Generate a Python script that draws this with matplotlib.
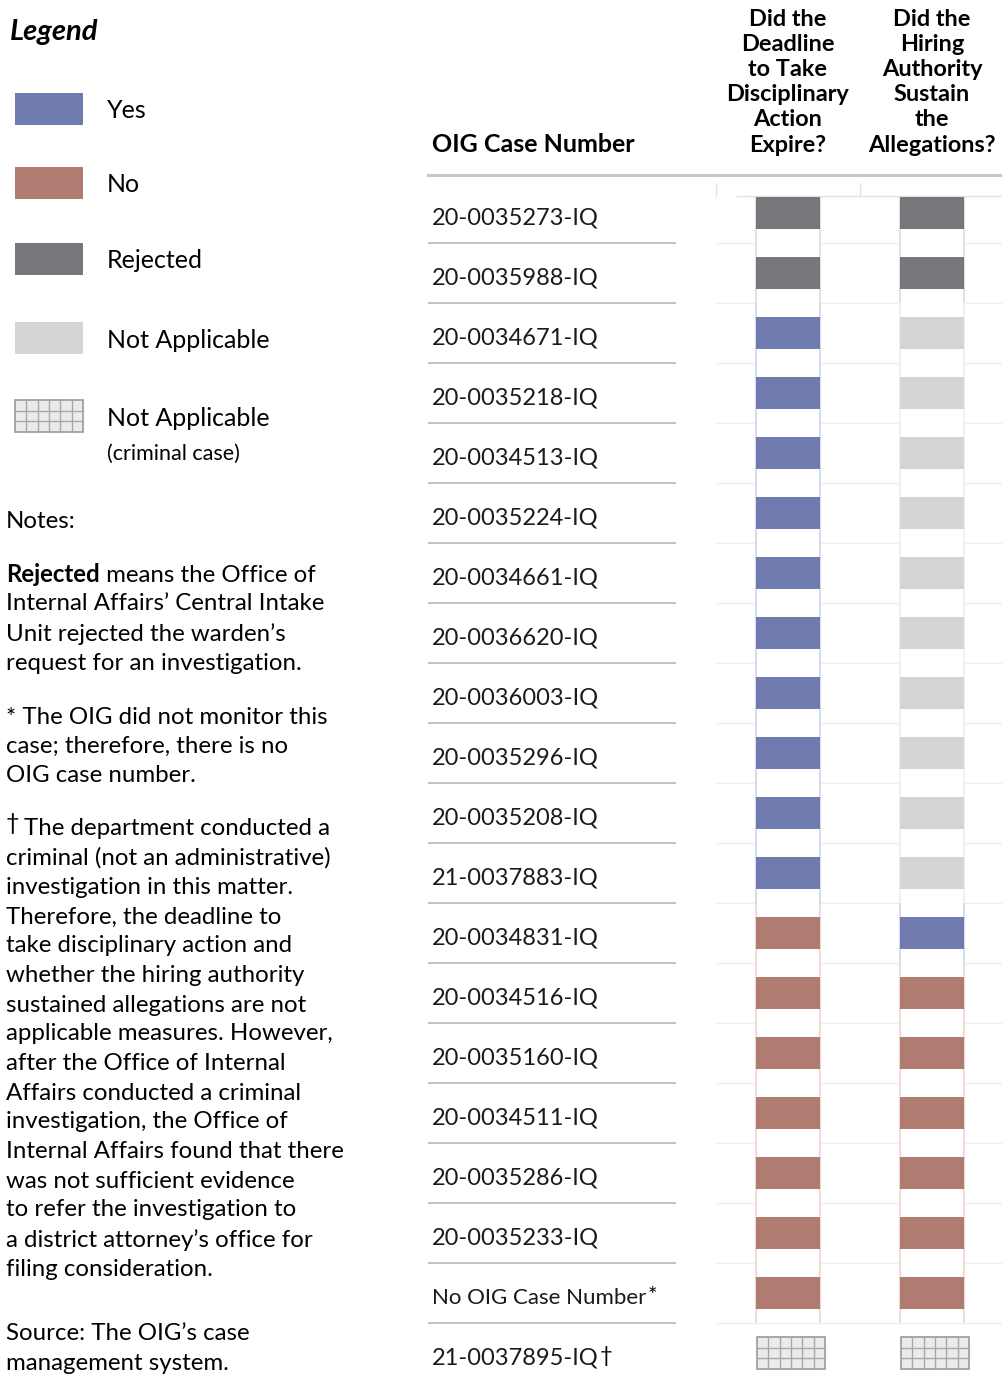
import matplotlib.pyplot as plt
from matplotlib.patches import Rectangle

plt.rcParams["font.family"] = ["Lato", "DejaVu Sans"]

# data
case_numbers = [
    "20-0035273-IQ", "20-0035988-IQ", "20-0034671-IQ", "20-0035218-IQ",
    "20-0034513-IQ", "20-0035224-IQ", "20-0034661-IQ", "20-0036620-IQ",
    "20-0036003-IQ", "20-0035296-IQ", "20-0035208-IQ", "21-0037883-IQ",
    "20-0034831-IQ", "20-0034516-IQ", "20-0035160-IQ", "20-0034511-IQ",
    "20-0035286-IQ", "20-0035233-IQ", "No OIG Case Number", "21-0037895-IQ",
]
case_marks = ["", "", "", "", "", "", "", "", "", "", "", "", "", "", "", "", "", "", "*", "\u2020"]

deadline_expired = [
    "Rejected", "Rejected", "Yes", "Yes", "Yes", "Yes", "Yes", "Yes", "Yes", "Yes",
    "Yes", "Yes", "No", "No", "No", "No", "No", "No", "No", "Criminal",
]
allegations_sustained = [
    "Rejected", "Rejected", "NA", "NA", "NA", "NA", "NA", "NA", "NA", "NA",
    "NA", "NA", "Yes", "No", "No", "No", "No", "No", "No", "Criminal",
]
column_headers = [
    ["Did the", "Deadline", "to Take", "Disciplinary", "Action", "Expire?"],
    ["Did the", "Hiring", "Authority", "Sustain", "the", "Allegations?"],
]

legend_keys = ["Yes", "No", "Rejected", "NA", "Criminal"]
legend_labels = ["Yes", "No", "Rejected", "Not Applicable", "Not Applicable"]

colors = {"Yes": "#6f7aaf", "No": "#b07c72", "Rejected": "#76777b", "NA": "#d4d5d7"}
edge_colors = {"Yes": "#d2d5ec", "No": "#ecd3d0", "Rejected": "#dcdcdc", "NA": "#eeeeee"}

notes = [
    (520, "Notes:"),
    (602, "Internal Affairs\u2019 Central Intake"),
    (632, "Unit rejected the warden\u2019s"),
    (661, "request for an investigation."),
    (715, "* The OIG did not monitor this"),
    (744, "case; therefore, there is no"),
    (773, "OIG case number."),
    (856, "criminal (not an administrative)"),
    (885, "investigation in this matter."),
    (915, "Therefore, the deadline to"),
    (944, "take disciplinary action and"),
    (973, "whether the hiring authority"),
    (1003, "sustained allegations are not"),
    (1032, "applicable measures. However,"),
    (1061, "after the Office of Internal"),
    (1091, "Affairs conducted a criminal"),
    (1120, "investigation, the Office of"),
    (1149, "Internal Affairs found that there"),
    (1179, "was not sufficient evidence"),
    (1208, "to refer the investigation to"),
    (1238, "a district attorney\u2019s office for"),
    (1267, "filing consideration."),
    (1332, "Source: The OIG\u2019s case"),
    (1361, "management system."),
]

W, H = 1002, 1379
fig = plt.figure(figsize=(W / 100, H / 100), dpi=100)

# overlay in pixel units for legend / notes
ov = fig.add_axes([0, 0, 1, 1])
ov.set_xlim(0, W)
ov.set_ylim(H, 0)
ov.axis("off")
dy = 2  # text box centre sits a bit above the glyph centre


def grid_box(a, x0, y0, w, h, ncol=6, nrow=3):
    a.add_patch(Rectangle((x0, y0), w, h, facecolor="#ebebeb", edgecolor="#9a9a9a", lw=1.2, zorder=5))
    for k in range(1, ncol):
        a.plot([x0 + w * k / ncol] * 2, [y0, y0 + h], color="#a8a8a8", lw=1.0, zorder=6)
    for k in range(1, nrow):
        a.plot([x0, x0 + w], [y0 + h * k / nrow] * 2, color="#a8a8a8", lw=1.0, zorder=6)


ov.text(10, 30 + dy, "Legend", fontsize=21, fontweight="bold", fontstyle="italic", va="center")
legend_y = [109, 183, 259, 338, 416]
for key, lab, ly in zip(legend_keys, legend_labels, legend_y):
    if key == "Criminal":
        grid_box(ov, 15, ly - 16, 68, 32)
    else:
        ov.add_patch(Rectangle((15, ly - 16), 68, 32, facecolor=colors[key], edgecolor="none"))
    ov.text(107, ly + dy, lab, fontsize=18, va="center")
ov.text(107, 452 + dy, "(criminal case)", fontsize=15.5, va="center")

note_fs = 17.3
for ny, line in notes:
    ov.text(6, ny + dy, line, fontsize=note_fs, va="center")
rej = ov.text(6, 573 + dy, "Rejected", fontsize=note_fs, fontweight="bold", va="center")
ov.annotate(" means the Office of", xy=(1, 0), xycoords=rej, fontsize=note_fs, va="bottom")
dag = ov.text(6, 821 + dy, "\u2020", fontsize=17, va="center")
ov.annotate("The department conducted a", xy=(1, 0), xycoords=dag, xytext=(3, -4),
            textcoords="offset points", fontsize=note_fs, va="bottom")

# table header
ov.text(432, 143 + dy, "OIG Case Number", fontsize=18, fontweight="bold", va="center")
for cx, lines in zip([788, 932], column_headers):
    for k, line in enumerate(lines):
        ov.text(cx, 17 + dy + 25.2 * k, line, fontsize=16.9, fontweight="bold", va="center", ha="center")
ov.plot([428, 1002], [175, 175], color="#c8c8c8", lw=2.2)

# table axes: x unit = column spacing, y unit = row
n = len(case_numbers)
ax = fig.add_axes([428 / W, 0, (W - 428) / W, (H - 183) / H])
ax.set_xlim(-2.5, 1 + 70 / 144)
ax.set_ylim(n - 0.5 - 4 / 60, -0.5)
ax.axis("off")

bw = 64 / 144
bh = 32 / 60
rows = list(range(n))

ax.hlines([r + 0.5 for r in rows[:-1]], -2.5, -112 / 144, color="#b8b8b8", lw=1.2)
ax.hlines([r + 0.5 for r in rows[:-1]], -0.5, 1 + 70 / 144, color="#efefef", lw=1.0, zorder=1)
ax.hlines(-17 / 60, -52 / 144, 1 + 70 / 144, color="#e2e2e2", lw=1.0, zorder=1)
ax.vlines([-0.5, 0.5], -0.5, -17 / 60, color="#e2e2e2", lw=1.0)

for r, (num, mark) in enumerate(zip(case_numbers, case_marks)):
    fs = 16 if num.startswith("No") else 17
    t = ax.text(-2.472, r + 0.08, num, fontsize=fs, va="center", color="#1a1a1a")
    if mark:
        ax.annotate(mark, xy=(1, 1), xycoords=t, xytext=(1, 1), textcoords="offset points",
                    fontsize=16, va="top")

for j, statuses in enumerate([deadline_expired, allegations_sustained]):
    for r, s in enumerate(statuses):
        if s == "Criminal":
            grid_box(ax, j - 31 / 144, r - bh / 2, 68 / 144, bh)
            continue
        top = r - bh / 2 if r == 0 else r - 0.5
        ax.bar(j, r + 0.5 - top, bottom=top, width=bw, color="white", edgecolor="none", zorder=2)
        ax.vlines([j - bw / 2, j + bw / 2], top, r + 0.5, color=edge_colors[s], lw=1.2, zorder=3)
    drawn = [r for r, s in enumerate(statuses) if s != "Criminal"]
    ax.bar([j] * len(drawn), bh, bottom=[r - bh / 2 for r in drawn], width=bw,
           color=[colors[statuses[r]] for r in drawn], edgecolor="none", zorder=4)

fig.savefig("out.png", dpi=100)
